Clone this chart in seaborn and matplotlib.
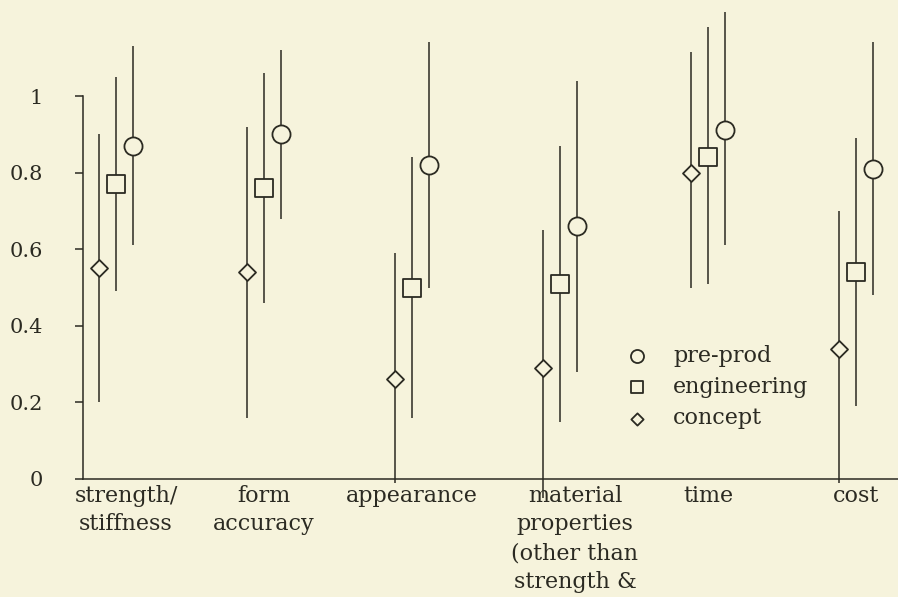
import matplotlib
matplotlib.use("Agg")
import matplotlib.pyplot as plt
import matplotlib.transforms as mtransforms
import seaborn as sns
import pandas as pd

# values
categories = ["strength/\nstiffness", "form\naccuracy", "appearance",
              "material\nproperties\n(other than\nstrength &", "time", "cost"]
stages = ["pre-prod", "engineering", "concept"]

preprod_mean = [0.87, 0.90, 0.82, 0.66, 0.91, 0.81]
preprod_low = [0.61, 0.68, 0.50, 0.28, 0.61, 0.48]
preprod_high = [1.13, 1.12, 1.14, 1.04, 1.22, 1.14]

engineering_mean = [0.77, 0.76, 0.50, 0.51, 0.84, 0.54]
engineering_low = [0.49, 0.46, 0.16, 0.15, 0.51, 0.19]
engineering_high = [1.05, 1.06, 0.84, 0.87, 1.18, 0.89]

concept_mean = [0.55, 0.54, 0.26, 0.29, 0.80, 0.34]
concept_low = [0.20, 0.16, -0.01, -0.05, 0.50, -0.01]
concept_high = [0.90, 0.92, 0.59, 0.65, 1.115, 0.70]

yticks = [0, 0.2, 0.4, 0.6, 0.8, 1]
ytick_labels = ["0", "0.2", "0.4", "0.6", "0.8", "1"]

series = {
    "pre-prod": (preprod_mean, preprod_low, preprod_high),
    "engineering": (engineering_mean, engineering_low, engineering_high),
    "concept": (concept_mean, concept_low, concept_high),
}

rows = []
for stage in stages:
    mean, low, high = series[stage]
    for i, cat in enumerate(categories):
        rows.append({"category": cat, "pos": i, "stage": stage,
                     "mean": mean[i], "low": low[i], "high": high[i]})
df = pd.DataFrame(rows)

bg = "#f6f3dc"
ink = "#2b2a22"
offsets = {"concept": -0.112, "engineering": 0.0, "pre-prod": 0.112}
markers = {"pre-prod": "o", "engineering": "s", "concept": "D"}
sizes = {"pre-prod": 170, "engineering": 150, "concept": 75}

sns.set_theme(style="ticks", rc={"axes.facecolor": bg, "figure.facecolor": bg,
                                 "axes.edgecolor": ink, "text.color": ink,
                                 "xtick.color": ink, "ytick.color": ink})
plt.rcParams["font.family"] = ["DejaVu Serif"]

fig = plt.figure(figsize=(8.98, 5.97), dpi=100)
ax = fig.add_axes([83 / 898, 118 / 597, 815 / 898, 479 / 597])

for stage in stages:
    sub = df[df["stage"] == stage]
    x = sub["pos"] + offsets[stage]
    ax.vlines(x, sub["low"], sub["high"], color=ink, lw=1.1, clip_on=False, zorder=2)
    sns.scatterplot(x=x, y=sub["mean"], marker=markers[stage], s=sizes[stage],
                    facecolor=bg, edgecolor=ink, linewidth=1.3, label=stage,
                    ax=ax, zorder=3, clip_on=False)

ax.set_xlim(-0.223, 5.284)
ax.set_ylim(0, 479 / 383)

ax.set_yticks(yticks)
ax.set_yticklabels(ytick_labels, fontsize=15)
ax.tick_params(axis="y", length=6, width=1.1, pad=23)

ax.set_xticks(range(len(categories)))
ax.set_xticklabels(categories, fontsize=16, linespacing=1.4)
ax.tick_params(axis="x", length=0, pad=4)
# a couple of labels sit a little right of their group in the original
for idx, shift in [(0, 10), (3, 15)]:
    lab = ax.get_xticklabels()[idx]
    lab.set_transform(lab.get_transform() +
                      mtransforms.ScaledTranslation(shift / 100, 0, fig.dpi_scale_trans))

ax.set_xlabel("")
ax.set_ylabel("")
sns.despine(ax=ax, top=True, right=True)
ax.spines["left"].set_bounds(0, 1)
ax.spines["left"].set_linewidth(1.1)
ax.spines["bottom"].set_linewidth(1.1)

leg = ax.legend(loc="upper left", bbox_to_anchor=(0.642, 0.322), frameon=False,
                fontsize=16, markerscale=0.72, handlelength=1.0,
                handletextpad=1.1, labelspacing=0.42)

fig.savefig("out.png", dpi=100, facecolor=bg)
